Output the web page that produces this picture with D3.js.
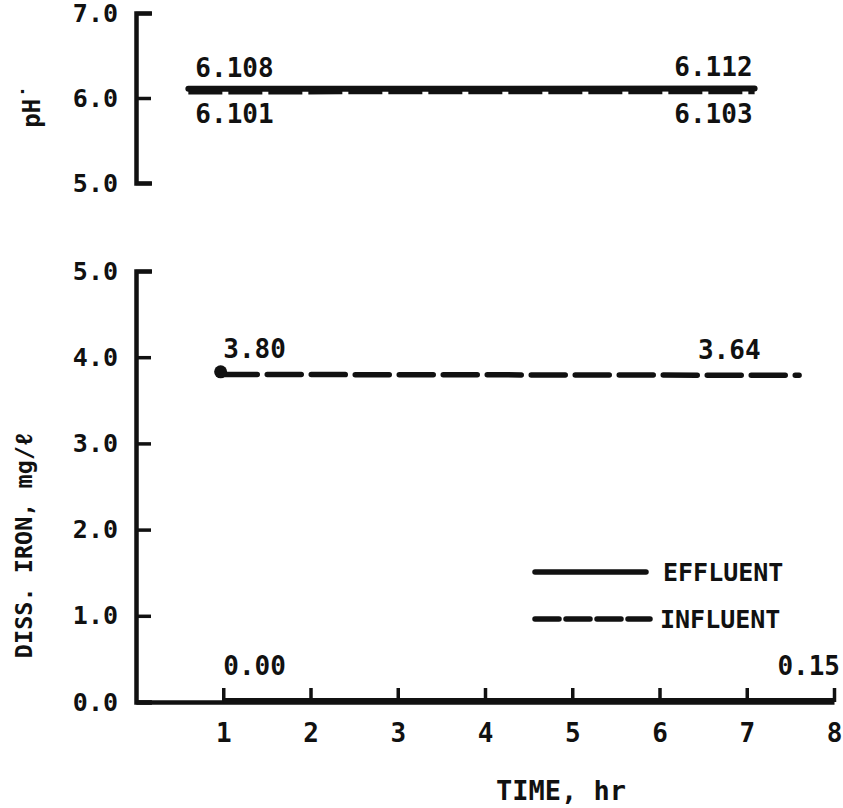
<!DOCTYPE html>
<html>
<head>
<meta charset="utf-8">
<script src="https://cdn.jsdelivr.net/npm/d3@7"></script>
<style>
  html, body { margin: 0; padding: 0; background: #fff; }
  svg { display: block; }
  text { font-family: "DejaVu Sans Mono", "Liberation Mono", monospace; font-weight: bold; fill: #111; }
</style>
</head>
<body>
<svg id="chart" width="843" height="808"></svg>
<script>
// ---- data ----
const timeTicks = [1, 2, 3, 4, 5, 6, 7, 8];
const phTicks = [5, 6, 7];
const ironTicks = [0, 1, 2, 3, 4, 5];

// pH (hours, value)
const phEffluent = [[0.6, 6.108], [7.09, 6.112]];
const phInfluent = [[0.6, 6.101], [7.09, 6.103]];
// dissolved iron (hours, mg/l)
const ironInfluent = [[1, 3.80], [7.6, 3.79]];
const ironEffluent = [[1, 0.00], [8, 0.00]];
const ironInfluentPoint = [[0.97, 3.83]];

// annotations [text, hours, value, anchor, side]
const phLabels = [
  ["6.108", 0.6, 6.108, "start", "above"],
  ["6.112", 7.09, 6.112, "end", "above"],
  ["6.101", 0.6, 6.101, "start", "below"],
  ["6.103", 7.09, 6.103, "end", "below"]
];
const ironLabels = [
  ["3.80", 1, 3.80, "start", "above"],
  ["3.64", 7.09, 3.79, "end", "above"],
  ["0.00", 1, 0.00, "start", "above"],
  ["0.15", 8, 0.00, "end", "above"]
];
const legendItems = ["EFFLUENT", "INFLUENT"];

// ---- scales ----
const svg = d3.select("#chart");
const x = d3.scaleLinear().domain([0, 8]).range([136, 834]);
const yPh = d3.scaleLinear().domain([5, 7]).range([183, 13]);
const yFe = d3.scaleLinear().domain([0, 5]).range([702, 271]);

const line = (ys) => d3.line().x(d => x(d[0])).y(d => ys(d[1]));

function styleAxis(g, w) {
  g.select(".domain").attr("stroke", "#111").attr("stroke-width", w).attr("fill", "none")
    .attr("stroke-linejoin", "miter");
  g.selectAll(".tick line").attr("stroke", "#111").attr("stroke-width", 3.5);
  g.selectAll(".tick text").attr("font-size", 25).attr("fill", "#111")
    .style("font-family", "DejaVu Sans Mono").style("font-weight", "bold");
}

// ---- pH panel ----
const phAxis = svg.append("g").attr("transform", `translate(${x(0)},0)`)
  .call(d3.axisLeft(yPh).tickValues(phTicks).tickSizeInner(-15).tickSizeOuter(-16)
    .tickPadding(18).tickFormat(d3.format(".1f")));
styleAxis(phAxis, 4.5);

svg.append("path").datum(phEffluent).attr("d", line(yPh))
  .attr("fill", "none").attr("stroke", "#111").attr("stroke-width", 6).attr("stroke-linecap", "round");
svg.append("path").datum(phInfluent).attr("d", line(yPh))
  .attr("fill", "none").attr("stroke", "#111").attr("stroke-width", 6)
  .attr("stroke-dasharray", "34,6").attr("transform", "translate(0,2)");

svg.selectAll(".phlab").data(phLabels).enter().append("text")
  .attr("x", d => x(d[1]) + (d[3] === "start" ? 7 : -2))
  .attr("y", d => yPh(d[2]) + (d[4] === "above" ? -12 : 34))
  .attr("text-anchor", d => d[3]).attr("font-size", 26).text(d => d[0]);

svg.append("text").attr("transform", `translate(40,106) rotate(-90)`)
  .attr("text-anchor", "middle").attr("font-size", 24).text("pH˙");

// ---- iron panel ----
const feAxis = svg.append("g").attr("transform", `translate(${x(0)},0)`)
  .call(d3.axisLeft(yFe).tickValues(ironTicks).tickSizeInner(-15).tickSizeOuter(-16)
    .tickPadding(18).tickFormat(d3.format(".1f")));
styleAxis(feAxis, 4.5);

const xAxis = svg.append("g").attr("transform", `translate(0,${yFe(0)})`)
  .call(d3.axisBottom(x).tickValues(timeTicks).tickSizeInner(-14).tickSizeOuter(0)
    .tickPadding(22).tickFormat(d3.format("d")));
styleAxis(xAxis, 4.5);
xAxis.selectAll(".tick text").attr("font-size", 26);

svg.append("path").datum(ironEffluent).attr("d", line(yFe))
  .attr("fill", "none").attr("stroke", "#111").attr("stroke-width", 6).attr("transform", "translate(0,-1)");
svg.append("path").datum(ironInfluent).attr("d", line(yFe))
  .attr("fill", "none").attr("stroke", "#111").attr("stroke-width", 5.5)
  .attr("stroke-dasharray", "34,10").attr("stroke-linecap", "round");
svg.selectAll(".fedot").data(ironInfluentPoint).enter().append("circle")
  .attr("cx", d => x(d[0])).attr("cy", d => yFe(d[1])).attr("r", 6.5).attr("fill", "#111");

svg.selectAll(".felab").data(ironLabels).enter().append("text")
  .attr("x", d => x(d[1]) + (d[3] === "start" ? 0 : 6))
  .attr("y", d => yFe(d[2]) + (d[2] > 1 ? -16 : -27))
  .attr("text-anchor", d => d[3]).attr("font-size", 26).text(d => d[0]);

svg.append("text").attr("transform", `translate(32,545) rotate(-90)`)
  .attr("text-anchor", "middle").attr("font-size", 23.5).text("DISS. IRON, mg/ℓ");

svg.append("text").attr("x", 561).attr("y", 800)
  .attr("text-anchor", "middle").attr("font-size", 27).text("TIME, hr");

// ---- legend ----
const lg = svg.append("g");
lg.selectAll(".lgline").data(legendItems).enter().append("line")
  .attr("x1", 535).attr("x2", (d, i) => i === 0 ? 646 : 650)
  .attr("y1", (d, i) => 572 + i * 47).attr("y2", (d, i) => 572 + i * 47)
  .attr("stroke", "#111").attr("stroke-width", 5.5).attr("stroke-linecap", "round")
  .attr("stroke-dasharray", (d, i) => i === 0 ? null : "24,7");
lg.selectAll(".lgtext").data(legendItems).enter().append("text")
  .attr("x", (d, i) => i === 0 ? 663 : 660).attr("y", (d, i) => 581 + i * 47)
  .attr("font-size", 25).text(d => d);
</script>
</body>
</html>
